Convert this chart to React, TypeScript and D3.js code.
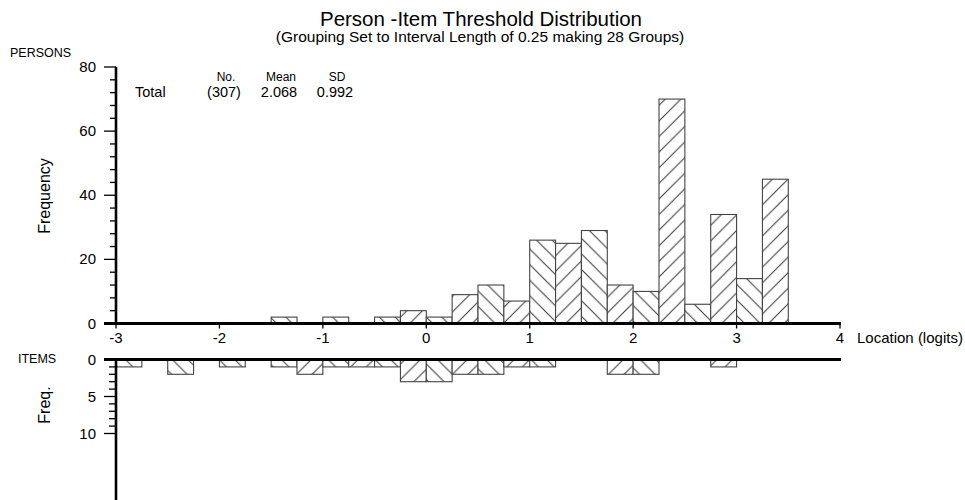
import * as d3 from 'd3';

// bins of 0.25 logits starting at -3 (28 groups)
const binStart = -3;
const binWidth = 0.25;
const personCounts = [0, 0, 0, 0, 0, 0, 2, 0, 2, 0, 2, 4, 2, 9, 12, 7, 26, 25, 29, 12, 10, 70, 6, 34, 14, 45, 0, 0];
const itemCounts = [1, 0, 2, 0, 1, 0, 1, 2, 1, 1, 1, 3, 3, 2, 2, 1, 1, 0, 0, 2, 2, 0, 0, 1, 0, 0, 0, 0];
const xTicks = [-3, -2, -1, 0, 1, 2, 3, 4];
const personTicks = [0, 20, 40, 60, 80];
const itemTicks = [0, 5, 10];
const statHeads = ['No.', 'Mean', 'SD'];
const statValues = ['(307)', '2.068', '0.992'];

const FONT = '"Liberation Sans", Arial, sans-serif';

export default function App() {
  const x = d3.scaleLinear().domain([-3, 4]).range([116, 840]);
  const yTop = d3.scaleLinear().domain([0, 80]).range([323.5, 67]);
  const yBot = d3.scaleLinear().domain([0, 10]).range([359.5, 433.5]);

  const bars = (counts: number[], top: boolean) =>
    counts.map((c, i) => {
      if (!c) return null;
      const x0 = x(binStart + i * binWidth);
      const x1 = x(binStart + (i + 1) * binWidth);
      const y0 = top ? yTop(c) : yBot(0);
      const h = top ? yTop(0) - yTop(c) : yBot(c) - yBot(0);
      return (
        <rect
          key={`${top ? 'p' : 'i'}-${i}`}
          x={x0}
          y={y0}
          width={x1 - x0}
          height={h}
          fill={`url(#${i % 2 ? 'fwd' : 'back'})`}
          stroke="#444"
          strokeWidth={1.1}
        />
      );
    });

  const statX = [226, 281, 337];

  return (
    <svg
      width={965}
      height={500}
      style={{ position: 'absolute', left: 0, top: 0, background: '#fff' }}
      fontFamily={FONT}
    >
      <defs>
        <pattern id="fwd" width={15.6} height={15.6} patternUnits="userSpaceOnUse">
          <rect width={15.6} height={15.6} fill="#fff" />
          <path d="M-2,2 L2,-2 M0,15.6 L15.6,0 M13.6,17.6 L17.6,13.6" stroke="#333" strokeWidth={1} />
        </pattern>
        <pattern id="back" width={15.6} height={15.6} patternUnits="userSpaceOnUse">
          <rect width={15.6} height={15.6} fill="#fff" />
          <path d="M-2,13.6 L2,17.6 M0,0 L15.6,15.6 M13.6,-2 L17.6,2" stroke="#333" strokeWidth={1} />
        </pattern>
      </defs>

      {/* titles */}
      <text x={481} y={26} textAnchor="middle" fontSize={20.5}>
        Person -Item Threshold Distribution
      </text>
      <text x={480} y={42} textAnchor="middle" fontSize={15.5}>
        (Grouping Set to Interval Length of 0.25 making 28 Groups)
      </text>

      <text x={10} y={57} fontSize={12.5}>PERSONS</text>
      <text x={18} y={363} fontSize={12.5}>ITEMS</text>

      <text transform="translate(44,196) rotate(-90)" textAnchor="middle" dominantBaseline="central" fontSize={16}>
        Frequency
      </text>
      <text transform="translate(44,405) rotate(-90)" textAnchor="middle" dominantBaseline="central" fontSize={16}>
        Freq.
      </text>

      {/* stats */}
      <text x={135} y={97} fontSize={14.5}>Total</text>
      {statHeads.map((s, i) => (
        <text key={s} x={statX[i]} y={81} textAnchor="middle" fontSize={12}>{s}</text>
      ))}
      {statValues.map((s, i) => (
        <text key={s} x={statX[i] - 2} y={97} textAnchor="middle" fontSize={14.5}>{s}</text>
      ))}

      {/* bars */}
      <g>{bars(personCounts, true)}</g>
      <g>{bars(itemCounts, false)}</g>

      {/* person y axis */}
      <g stroke="#000">
        {d3.range(0, 81, 4).map((v) => (
          <line
            key={`pt-${v}`}
            x1={v % 20 === 0 ? 104 : 110}
            x2={116}
            y1={yTop(v)}
            y2={yTop(v)}
            strokeWidth={1.3}
          />
        ))}
        <line x1={116} x2={116} y1={yTop(80)} y2={yTop(0) + 1} strokeWidth={2.6} />
        {xTicks.map((t) => (
          <line key={`xt-${t}`} x1={x(t)} x2={x(t)} y1={yTop(0)} y2={yTop(0) + 5} strokeWidth={1.3} />
        ))}
        <line x1={104} x2={841} y1={yTop(0)} y2={yTop(0)} strokeWidth={2.8} />
      </g>
      {personTicks.map((v) => (
        <text key={`pl-${v}`} x={96} y={yTop(v) + 5} textAnchor="end" fontSize={15}>{v}</text>
      ))}
      {xTicks.map((t) => (
        <text key={`xl-${t}`} x={x(t)} y={343} textAnchor="middle" fontSize={15}>{t}</text>
      ))}
      <text x={857} y={343} fontSize={15}>Location (logits)</text>

      {/* item axis */}
      <g stroke="#000">
        {d3.range(0, 11, 1).map((v) => (
          <line
            key={`it-${v}`}
            x1={v % 5 === 0 ? 104 : 109}
            x2={116}
            y1={yBot(v)}
            y2={yBot(v)}
            strokeWidth={1.3}
          />
        ))}
        <line x1={116} x2={116} y1={yBot(0) - 1} y2={505} strokeWidth={2.6} />
        <line x1={104} x2={841} y1={yBot(0)} y2={yBot(0)} strokeWidth={2.8} />
      </g>
      {itemTicks.map((v) => (
        <text key={`il-${v}`} x={96} y={yBot(v) + 5} textAnchor="end" fontSize={15}>{v}</text>
      ))}
    </svg>
  );
}
